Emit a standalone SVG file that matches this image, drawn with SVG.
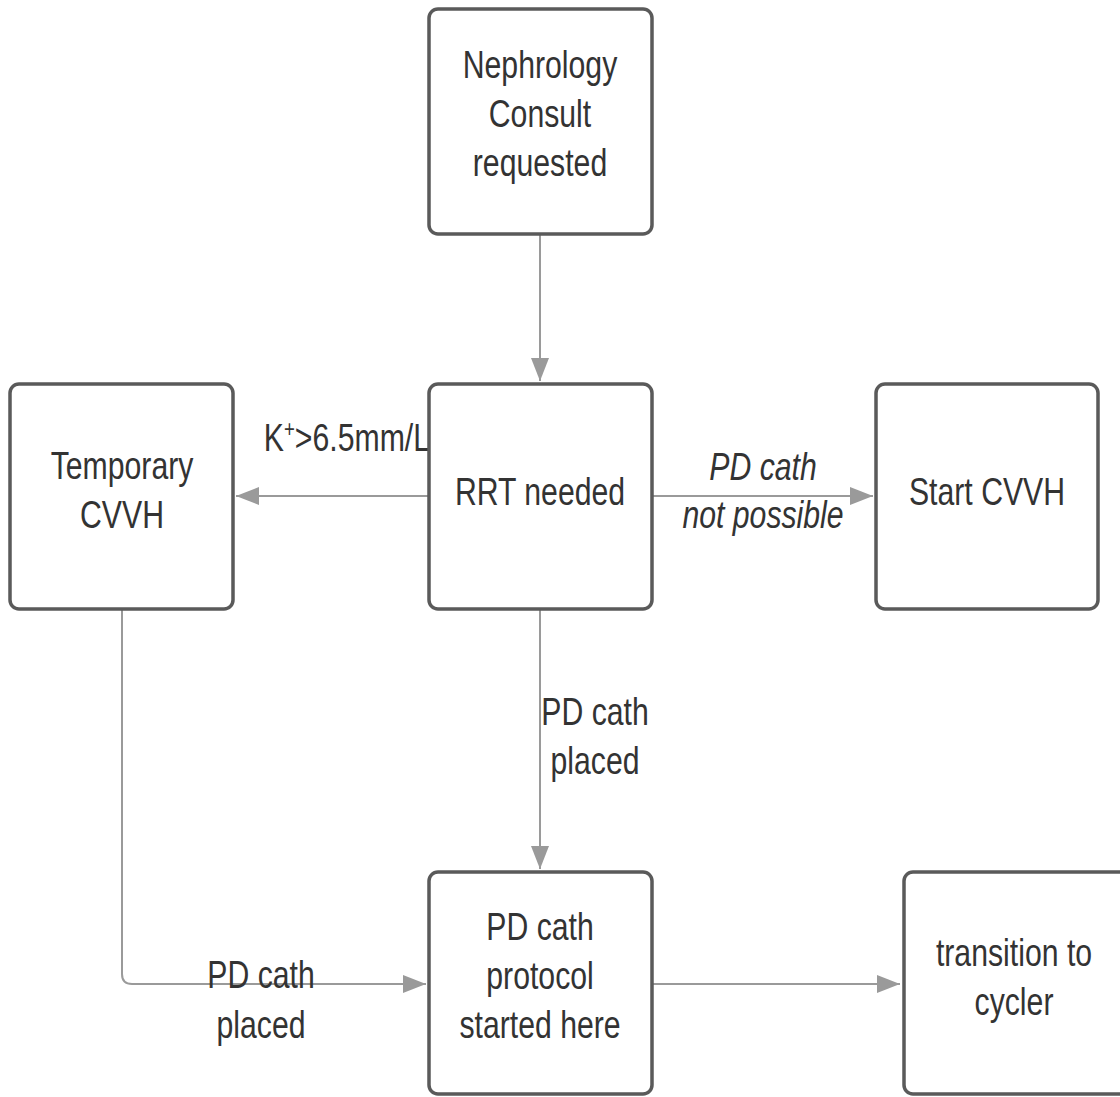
<svg xmlns="http://www.w3.org/2000/svg" width="1120" height="1097" viewBox="0 0 1120 1097">
<style>
.box{fill:#fff;stroke:#5a5a5a;stroke-width:3.5}
.t{font-family:"Liberation Sans",Arial,sans-serif;font-size:39px;fill:#333;text-anchor:middle}
.i{font-style:italic}
.c{fill:none;stroke:#9a9a9a;stroke-width:2}
</style>
<defs>
<marker id="ah" markerUnits="userSpaceOnUse" markerWidth="24" markerHeight="18" refX="23" refY="9" orient="auto">
<path d="M0,0 L23,9 L0,18 z" fill="#9a9a9a"/>
</marker>
</defs>
<rect width="1120" height="1097" fill="#fff"/>
<g id="connectors">
<line class="c" x1="540" y1="235" x2="540" y2="381" marker-end="url(#ah)"/>
<line class="c" x1="428" y1="496" x2="236" y2="496" marker-end="url(#ah)"/>
<line class="c" x1="652" y1="496" x2="873" y2="496" marker-end="url(#ah)"/>
<line class="c" x1="540" y1="610" x2="540" y2="869" marker-end="url(#ah)"/>
<path class="c" d="M122,610 L122,974 Q122,984 132,984 L426,984" marker-end="url(#ah)"/>
<line class="c" x1="652" y1="984" x2="900" y2="984" marker-end="url(#ah)"/>
<g transform="matrix(0.775 0 0 1 430 0)"><text class="t" x="0" y="451" style="text-anchor:end">K<tspan font-size="24" dy="-14">+</tspan><tspan dy="14">&gt;6.5mm/L</tspan></text></g>
<g transform="matrix(0.775 0 0 1 763 0)"><text class="t i" x="0" y="480">PD cath</text><text class="t i" x="0" y="528">not possible</text></g>
<g transform="matrix(0.775 0 0 1 595 0)"><text class="t" x="0" y="725">PD cath</text><text class="t" x="0" y="774">placed</text></g>
<g transform="matrix(0.775 0 0 1 261 0)"><text class="t" x="0" y="988">PD cath</text><text class="t" x="0" y="1038">placed</text></g>
</g>
<g id="consult">
<rect class="box" x="429" y="9" width="223" height="225" rx="9"/>
<g transform="matrix(0.775 0 0 1 540 0)"><text class="t" x="0" y="78">Nephrology</text><text class="t" x="0" y="127">Consult</text><text class="t" x="0" y="176">requested</text></g>
</g>
<g id="rrt">
<rect class="box" x="429" y="384" width="223" height="225" rx="9"/>
<g transform="matrix(0.775 0 0 1 540 0)"><text class="t" x="0" y="505">RRT needed</text></g>
</g>
<g id="temp">
<rect class="box" x="10" y="384" width="223" height="225" rx="9"/>
<g transform="matrix(0.775 0 0 1 122 0)"><text class="t" x="0" y="479">Temporary</text><text class="t" x="0" y="528">CVVH</text></g>
</g>
<g id="start">
<rect class="box" x="876" y="384" width="222" height="225" rx="9"/>
<g transform="matrix(0.775 0 0 1 987 0)"><text class="t" x="0" y="505">Start CVVH</text></g>
</g>
<g id="protocol">
<rect class="box" x="429" y="872" width="223" height="222" rx="9"/>
<g transform="matrix(0.775 0 0 1 540 0)"><text class="t" x="0" y="940">PD cath</text><text class="t" x="0" y="989">protocol</text><text class="t" x="0" y="1038">started here</text></g>
</g>
<g id="cycler">
<rect class="box" x="904" y="872" width="224" height="222" rx="9"/>
<g transform="matrix(0.775 0 0 1 1014 0)"><text class="t" x="0" y="966">transition to</text><text class="t" x="0" y="1015">cycler</text></g>
</g>
</svg>
